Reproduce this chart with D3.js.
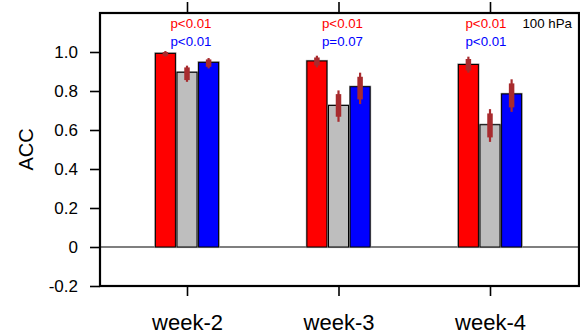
<!DOCTYPE html>
<html>
<head>
<meta charset="utf-8">
<script src="https://cdn.jsdelivr.net/npm/d3@7"></script>
<style>
  html, body { margin: 0; padding: 0; background: #fff; }
  svg { display: block; font-family: "Liberation Sans", Arial, Helvetica, sans-serif; }
</style>
</head>
<body>
<svg id="chart" width="580" height="334"></svg>
<script>
// Lead weeks on the x axis
const categories = ["week-2", "week-3", "week-4"];
const seriesKeys = ["red", "gray", "blue"];

// Mean ACC per lead week
const accRed  = [0.993, 0.954, 0.936];
const accGray = [0.896, 0.726, 0.627];
const accBlue = [0.947, 0.822, 0.785];

// Outer uncertainty range [low, high]
const rangeRed  = [[0.976, 1.005], [0.921, 0.981], [0.894, 0.976]];
const rangeGray = [[0.847, 0.930], [0.642, 0.803], [0.539, 0.707]];
const rangeBlue = [[0.916, 0.969], [0.733, 0.894], [0.693, 0.860]];

// Inner uncertainty range [low, high]
const coreRed  = [[0.981, 1.000], [0.931, 0.972], [0.905, 0.964]];
const coreGray = [[0.856, 0.921], [0.668, 0.784], [0.562, 0.685]];
const coreBlue = [[0.924, 0.962], [0.757, 0.873], [0.716, 0.839]];

// Significance labels above each group
const pRed  = ["p<0.01", "p<0.01", "p<0.01"];
const pBlue = ["p<0.01", "p=0.07", "p<0.01"];

const yTicks = [-0.2, 0, 0.2, 0.4, 0.6, 0.8, 1.0];
const levelLabel = "100 hPa";
const yTitle = "ACC";

const colors = { red: "#ff0000", gray: "#bebebe", blue: "#0000ff" };
const errColor = "#a82b2e";

const means = { red: accRed, gray: accGray, blue: accBlue };
const ranges = { red: rangeRed, gray: rangeGray, blue: rangeBlue };
const cores = { red: coreRed, gray: coreGray, blue: coreBlue };

const rows = [];
categories.forEach((c, i) => {
  seriesKeys.forEach(k => {
    rows.push({ cat: c, key: k, v: means[k][i], r: ranges[k][i], q: cores[k][i] });
  });
});

const svg = d3.select("#chart");
const plot = { left: 100, right: 579, top: 13, bottom: 286 };

const y = d3.scaleLinear().domain([-0.2, 1.2]).range([plot.bottom, plot.top]);
const x = d3.scalePoint().domain(categories).range([187, 490]);
const xi = d3.scaleBand().domain(seriesKeys).range([-31.6, 31.6]).paddingInner(0.075);

// zero reference line
svg.append("line")
  .attr("x1", plot.left).attr("x2", plot.right)
  .attr("y1", y(0)).attr("y2", y(0))
  .attr("stroke", "#000").attr("stroke-width", 1.2);

// bars
const bars = svg.append("g");
bars.selectAll("rect.halo").data(rows).join("rect")
  .attr("class", "halo")
  .attr("x", d => x(d.cat) + xi(d.key))
  .attr("width", xi.bandwidth())
  .attr("y", d => y(d.v))
  .attr("height", d => y(0) - y(d.v))
  .attr("fill", d => colors[d.key])
  .attr("stroke", "#9a9a9a").attr("stroke-width", 2.2);
bars.selectAll("rect.bar").data(rows).join("rect")
  .attr("class", "bar")
  .attr("x", d => x(d.cat) + xi(d.key))
  .attr("width", xi.bandwidth())
  .attr("y", d => y(d.v))
  .attr("height", d => y(0) - y(d.v))
  .attr("fill", d => colors[d.key])
  .attr("stroke", "#000").attr("stroke-width", 1);

// uncertainty marks: thin outer range, thick inner range
const errs = svg.append("g").attr("stroke", errColor);
errs.selectAll("line.outer").data(rows).join("line")
  .attr("class", "outer")
  .attr("x1", d => x(d.cat) + xi(d.key) + xi.bandwidth() / 2)
  .attr("x2", d => x(d.cat) + xi(d.key) + xi.bandwidth() / 2)
  .attr("y1", d => y(d.r[0])).attr("y2", d => y(d.r[1]))
  .attr("stroke-width", 2.2);
errs.selectAll("line.inner").data(rows).join("line")
  .attr("class", "inner")
  .attr("x1", d => x(d.cat) + xi(d.key) + xi.bandwidth() / 2)
  .attr("x2", d => x(d.cat) + xi(d.key) + xi.bandwidth() / 2)
  .attr("y1", d => y(d.q[0])).attr("y2", d => y(d.q[1]))
  .attr("stroke-width", 5.5);

// frame
svg.append("rect")
  .attr("x", plot.left).attr("y", plot.top)
  .attr("width", plot.right - plot.left).attr("height", plot.bottom - plot.top)
  .attr("fill", "none").attr("stroke", "#000").attr("stroke-width", 2.2);

// y axis
const yAxis = d3.axisLeft(y)
  .tickValues(yTicks)
  .tickSize(10)
  .tickPadding(12)
  .tickFormat(d => d === 0 ? "0" : d.toFixed(1));
const gy = svg.append("g").attr("transform", `translate(${plot.left},0)`).call(yAxis);
gy.select(".domain").remove();
gy.selectAll(".tick line").attr("stroke-width", 1.6);
gy.selectAll(".tick text")
  .attr("font-family", "Liberation Sans, Arial, sans-serif")
  .attr("font-size", 17).attr("fill", "#000");

// x axis (bottom) and mirrored top ticks
const xAxis = d3.axisBottom(x).tickSize(9).tickPadding(18);
const gx = svg.append("g").attr("transform", `translate(0,${plot.bottom + 1})`).call(xAxis);
gx.select(".domain").remove();
gx.selectAll(".tick line").attr("stroke-width", 1.6);
gx.selectAll(".tick text")
  .attr("font-family", "Liberation Sans, Arial, sans-serif")
  .attr("font-size", 22).attr("fill", "#000");

const gxt = svg.append("g").attr("transform", `translate(0,${plot.top - 1})`)
  .call(d3.axisTop(x).tickSize(10).tickFormat(""));
gxt.select(".domain").remove();
gxt.selectAll(".tick line").attr("stroke-width", 1.6);

// y title
svg.append("text")
  .attr("transform", `translate(33,${(plot.top + plot.bottom) / 2}) rotate(-90)`)
  .attr("text-anchor", "middle")
  .attr("font-size", 20)
  .text(yTitle);

// significance labels
const pShift = [4, 4, -4];
svg.append("g").selectAll("text").data(categories).join("text")
  .attr("x", (d, i) => x(d) + pShift[i])
  .attr("y", 28)
  .attr("text-anchor", "middle")
  .attr("font-size", 13.3)
  .attr("fill", colors.red)
  .text((d, i) => pRed[i]);
svg.append("g").selectAll("text").data(categories).join("text")
  .attr("x", (d, i) => x(d) + pShift[i])
  .attr("y", 46)
  .attr("text-anchor", "middle")
  .attr("font-size", 13.3)
  .attr("fill", colors.blue)
  .text((d, i) => pBlue[i]);

// level annotation
svg.append("text")
  .attr("x", 572).attr("y", 27.5)
  .attr("text-anchor", "end")
  .attr("font-size", 13.3)
  .attr("fill", "#000")
  .text(levelLabel);
</script>
</body>
</html>
